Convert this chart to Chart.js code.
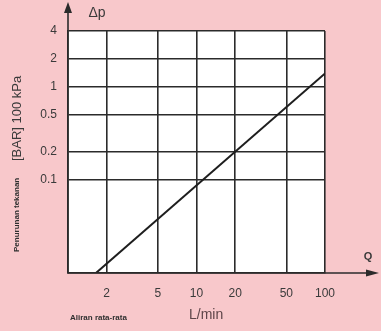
<!DOCTYPE html>
<html>
<head>
<meta charset="utf-8">
<script src="https://cdn.jsdelivr.net/npm/chart.js@4/dist/chart.umd.min.js"></script>
<style>
  html, body { margin: 0; padding: 0; background: #f8c8cb; }
  #wrap { width: 381px; height: 331px; }
</style>
</head>
<body>
<div id="wrap"><canvas id="dp-chart" width="381" height="331"></canvas></div>
<script>
// aliran (L/min) dan penurunan tekanan (bar)
const qValues = [1.65, 100];
const dpValues = [0.01, 1.4];
const qTicks = [2, 5, 10, 20, 50, 100];
const dpTicks = [0.1, 0.2, 0.5, 1, 2, 4];

const PINK = '#f8c8cb';
const INK = '#2b2b2b';

// latar belakang + area grafik putih
const bgPlugin = {
    id: 'bg',
    beforeDraw(chart) {
        const { ctx, chartArea: a } = chart;
        ctx.save();
        ctx.fillStyle = PINK;
        ctx.fillRect(0, 0, chart.width, chart.height);
        ctx.fillStyle = '#ffffff';
        ctx.fillRect(a.left, a.top, a.right - a.left, a.bottom - a.top);
        ctx.restore();
    }
};

// panah sumbu dan judul sumbu
const axisPlugin = {
    id: 'axisDecor',
    afterDraw(chart) {
        const { ctx, chartArea: a } = chart;
        ctx.save();
        ctx.strokeStyle = INK;
        ctx.fillStyle = INK;
        ctx.lineWidth = 1.6;

        // sumbu Δp ke atas
        ctx.beginPath();
        ctx.moveTo(a.left, a.bottom);
        ctx.lineTo(a.left, 8);
        ctx.stroke();
        ctx.beginPath();
        ctx.moveTo(a.left, 2);
        ctx.lineTo(a.left - 4, 13);
        ctx.lineTo(a.left + 4, 13);
        ctx.closePath();
        ctx.fill();

        // sumbu Q ke kanan
        ctx.beginPath();
        ctx.moveTo(a.left, a.bottom);
        ctx.lineTo(370, a.bottom);
        ctx.stroke();
        ctx.beginPath();
        ctx.moveTo(379, a.bottom);
        ctx.lineTo(366, a.bottom - 3.5);
        ctx.lineTo(366, a.bottom + 3.5);
        ctx.closePath();
        ctx.fill();

        ctx.textBaseline = 'middle';
        ctx.fillStyle = '#3a3a3a';
        ctx.font = '14px "Liberation Sans", Arial, sans-serif';
        ctx.textAlign = 'center';
        ctx.fillText('Δp', 97, 13);
        ctx.font = 'bold 11px "Liberation Sans", Arial, sans-serif';
        ctx.fillText('Q', 368, 257);

        // judul sumbu X
        ctx.textAlign = 'left';
        ctx.fillStyle = '#303030';
        ctx.font = 'bold 8px "Liberation Sans", Arial, sans-serif';
        ctx.fillText('Aliran rata-rata', 70, 318);
        ctx.fillStyle = '#5e4549';
        ctx.font = '14px "Liberation Sans", Arial, sans-serif';
        ctx.fillText('L/min', 189, 315);

        // judul sumbu Y (diputar)
        ctx.translate(17, 252);
        ctx.rotate(-Math.PI / 2);
        ctx.fillStyle = '#303030';
        ctx.font = 'bold 8px "Liberation Sans", Arial, sans-serif';
        ctx.fillText('Penurunan tekanan', 0, 0);
        ctx.font = '13px "Liberation Sans", Arial, sans-serif';
        ctx.fillStyle = '#3a3a3a';
        ctx.fillText('[BAR] 100 kPa', 91, 0);
        ctx.restore();
    }
};

const ctx = document.getElementById('dp-chart').getContext('2d');
new Chart(ctx, {
    type: 'scatter',
    data: {
        datasets: [{
            data: qValues.map((q, i) => ({ x: q, y: dpValues[i] })),
            showLine: true,
            borderColor: '#1e1e1e',
            borderWidth: 2,
            pointRadius: 0,
            fill: false
        }]
    },
    options: {
        responsive: false,
        animation: false,
        devicePixelRatio: 1,
        layout: { padding: { top: 31, right: 56, left: 0, bottom: 0 } },
        plugins: {
            legend: { display: false },
            tooltip: { enabled: false }
        },
        scales: {
            x: {
                type: 'logarithmic',
                min: 1,
                max: 100,
                afterBuildTicks: s => { s.ticks = qTicks.map(v => ({ value: v })); },
                afterFit: s => { s.height = 58; },
                grid: { color: INK, lineWidth: 1.6, drawTicks: false },
                border: { display: true, color: INK, width: 1.6 },
                ticks: {
                    autoSkip: false,
                    maxRotation: 0,
                    padding: 13,
                    color: '#3a3a3a',
                    font: { family: '"Liberation Sans", Arial, sans-serif', size: 12 },
                    callback: v => String(v)
                }
            },
            y: {
                type: 'logarithmic',
                min: 0.01,
                max: 4,
                afterBuildTicks: s => { s.ticks = dpTicks.map(v => ({ value: v })); },
                afterFit: s => { s.width = 68; },
                grid: { color: INK, lineWidth: 1.6, drawTicks: false },
                border: { display: true, color: INK, width: 1.6 },
                ticks: {
                    autoSkip: false,
                    padding: 11,
                    color: '#3a3a3a',
                    font: { family: '"Liberation Sans", Arial, sans-serif', size: 12 },
                    callback: v => String(v)
                }
            }
        }
    },
    plugins: [bgPlugin, axisPlugin]
});
</script>
</body>
</html>
